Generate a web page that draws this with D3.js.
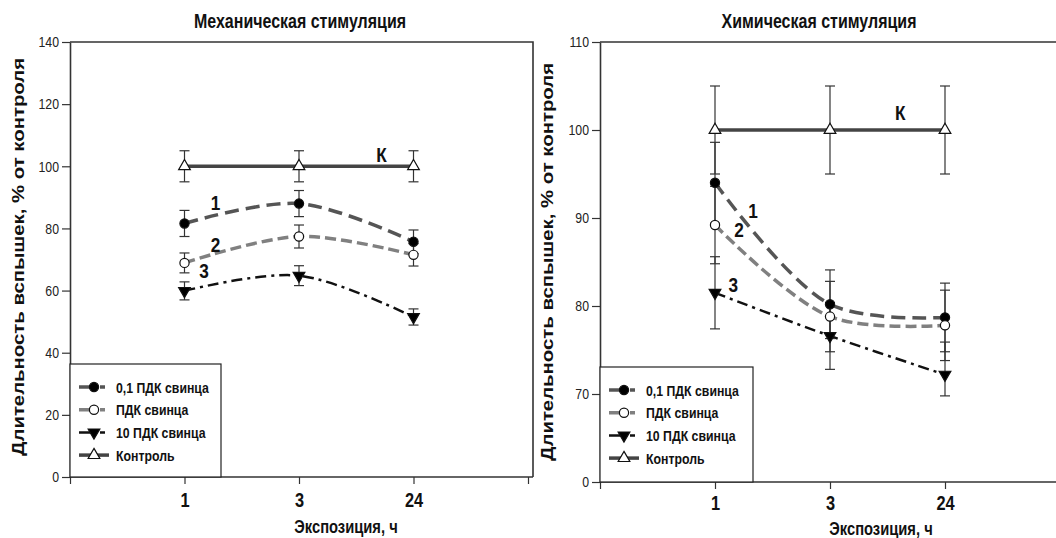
<!DOCTYPE html>
<html>
<head>
<meta charset="utf-8">
<script src="https://cdn.jsdelivr.net/npm/d3@7"></script>
<style>
  body { margin: 0; background: #fff; }
</style>
</head>
<body>
<div id="chart"></div>
<script>
// Data
var categories = ["1", "3", "24"];
var seriesNames = ["0,1 ПДК свинца", "ПДК свинца", "10 ПДК свинца", "Контроль"];
var curveLabels = ["1", "2", "3", "К"];

// Механическая стимуляция
var mechLow = [81.6, 88.0, 75.7];
var mechLowErr = [4.2, 4.2, 3.8];
var mechMpc = [68.9, 77.4, 71.5];
var mechMpcErr = [3.2, 3.7, 3.6];
var mechHigh = [59.9, 64.8, 51.5];
var mechHighErr = [2.9, 3.2, 2.6];
var mechCtrl = [100, 100, 100];
var mechCtrlErr = [5, 5, 5];
var mechTicks = [0, 20, 40, 60, 80, 100, 120, 140];

// Химическая стимуляция
var chemLow = [94.0, 80.2, 78.7];
var chemLowErr = [4.6, 3.9, 3.9];
var chemMpc = [89.2, 78.8, 77.8];
var chemMpcErr = [4.4, 4.0, 4.0];
var chemHigh = [81.5, 76.6, 72.2];
var chemHighErr = [4.1, 3.8, 3.7];
var chemCtrl = [100, 100, 100];
var chemCtrlErr = [5, 5, 5];
var chemTicks = [0, 70, 80, 90, 100, 110];

var drawChart = function(){

    var width = 1056, height = 538;
    var font = '"Liberation Sans", Arial, sans-serif';
    var squeeze = 0.82;   // no narrow font installed, so squeeze the regular one

    // styles for the four series: 0,1 ПДК, ПДК, 10 ПДК, Контроль
    var styles = [
        {color: "#555", dash: "14,7", width: 3.5, marker: "circle", fill: "#000"},
        {color: "#808080", dash: "11,5", width: 3.5, marker: "circle", fill: "#fff"},
        {color: "#111", dash: "11,5,3,5", width: 2.5, marker: "down", fill: "#000"},
        {color: "#444", dash: null, width: 3.5, marker: "up", fill: "#fff"}
    ];

    var svg = d3.select('#chart')
        .append('svg')
        .attr("width", width)
        .attr("height", height)
        .style('background-color', '#fff');

    // narrow text helper
    var narrowText = function(g, x, y, str, size, anchor) {
        return g.append("text")
            .attr("transform", "translate(" + x + "," + y + ") scale(" + squeeze + ",1)")
            .attr("text-anchor", anchor || "middle")
            .attr("font-family", font).attr("font-weight", "bold")
            .attr("font-size", size).attr("fill", "#111")
            .text(str);
    };

    var panels = [
        {
            title: "Механическая стимуляция", titleX: 300,
            left: 70, top: 42, bottom: 477, step: 114.5, frameRight: 533,
            yDomain: [0, 140], yTicks: mechTicks,
            series: [[mechLow, mechLowErr], [mechMpc, mechMpcErr], [mechHigh, mechHighErr], [mechCtrl, mechCtrlErr]],
            labelPos: [[1.27, 85.9], [1.27, 72.4], [1.17, 64.0], [2.72, 101.4]],
            yLabelX: 18, yLabelY: 257, xLabelX: 346, tickY: 30, xLabelY: 533,
            legendTop: 364, legendW: 151
        },
        {
            title: "Химическая стимуляция", titleX: 819,
            left: 600, top: 42, bottom: 482, step: 115, frameRight: 1062,
            yDomain: [0, 70, 110], yTicks: chemTicks,
            series: [[chemLow, chemLowErr], [chemMpc, chemMpcErr], [chemHigh, chemHighErr], [chemCtrl, chemCtrlErr]],
            labelPos: [[1.33, 90.0], [1.21, 87.8], [1.16, 81.6], [2.61, 101.1]],
            yLabelX: 547, yLabelY: 262, xLabelX: 881, tickY: 28, xLabelY: 535,
            legendTop: 367, legendW: 153
        }
    ];

    var markerPath = function(type, r) {
        if (type === "circle") return d3.symbol(d3.symbolCircle, Math.PI * r * r)();
        return d3.symbol(d3.symbolTriangle, r * r * 2.8)();
    };

    var drawMarker = function(g, st, x, y, r) {
        g.append("path")
            .attr("d", markerPath(st.marker, r))
            .attr("transform", "translate(" + x + "," + y + ")" + (st.marker === "down" ? " rotate(180)" : ""))
            .attr("fill", st.fill)
            .attr("stroke", "#111")
            .attr("stroke-width", 1.2);
    };

    panels.forEach(function(p) {
        var g = svg.append("g");

        // Scales (right panel has a broken axis: 0 then 70..110)
        var x = d3.scaleLinear().domain([0, 4]).range([p.left, p.left + 4 * p.step]);
        var yRange = p.yDomain.length === 2 ? [p.bottom, p.top]
            : [p.bottom, p.bottom - (p.bottom - p.top) / 5, p.top];
        var y = d3.scaleLinear().domain(p.yDomain).range(yRange);

        // Frame: top and right
        g.append("path")
            .attr("d", "M" + p.left + "," + p.top + "H" + p.frameRight + "V" + p.bottom)
            .attr("fill", "none")
            .attr("stroke", "#333")
            .attr("stroke-width", 1.6);

        // Y axis
        var yAxis = g.append("g")
            .attr("transform", "translate(" + p.left + ",0)")
            .call(d3.axisLeft(y).tickValues(p.yTicks).tickSize(8).tickSizeOuter(0).tickPadding(3));
        yAxis.select(".domain").attr("stroke", "#333").attr("stroke-width", 1.6);
        yAxis.selectAll(".tick line").attr("stroke", "#333").attr("stroke-width", 1.2);
        yAxis.selectAll(".tick text")
            .attr("font-family", font)
            .attr("font-size", 15)
            .attr("fill", "#222")
            .attr("x", -11 / squeeze)
            .attr("transform", "scale(" + squeeze + ",1)");

        // X axis
        var xAxis = g.append("g")
            .attr("transform", "translate(0," + p.bottom + ")")
            .call(d3.axisBottom(x).tickValues([0, 1, 2, 3, 4]).tickSize(7).tickSizeOuter(0)
                .tickFormat(function(d) { return categories[d - 1] || ""; }));
        xAxis.select(".domain").attr("stroke", "#333").attr("stroke-width", 1.6)
            .attr("d", "M" + p.left + ",0H" + p.frameRight);
        xAxis.selectAll(".tick line").attr("stroke", "#333").attr("stroke-width", 1.2);
        xAxis.selectAll(".tick text")
            .attr("font-family", font)
            .attr("font-weight", "bold")
            .attr("font-size", 20)
            .attr("fill", "#111")
            .attr("dy", null)
            .attr("y", p.tickY)
            .attr("transform", "scale(" + squeeze + ",1)");

        // Titles
        narrowText(g, p.titleX, 28, p.title, 19.5);
        narrowText(g, p.xLabelX, p.xLabelY, "Экспозиция, ч", 18);

        g.append("text")
            .attr("transform", "translate(" + (p.yLabelX + 6) + "," + p.yLabelY + ") rotate(-90)")
            .attr("text-anchor", "middle")
            .attr("font-family", font).attr("font-weight", "bold")
            .attr("font-size", 16.5).attr("fill", "#111")
            .attr("textLength", 398).attr("lengthAdjust", "spacingAndGlyphs")
            .text("Длительность вспышек, % от контроля");

        var line = d3.line()
            .x(function(d, i) { return x(i + 1); })
            .y(function(d) { return y(d); })
            .curve(d3.curveCatmullRom.alpha(0.5));

        // Lines
        p.series.forEach(function(s, k) {
            var st = styles[k];
            g.append("path")
                .datum(s[0])
                .attr("d", line)
                .attr("fill", "none")
                .attr("stroke", st.color)
                .attr("stroke-width", st.width)
                .attr("stroke-dasharray", st.dash);
        });

        // Error bars
        p.series.forEach(function(s) {
            s[0].forEach(function(v, i) {
                var cx = x(i + 1), e = s[1][i];
                var eb = g.append("g").attr("stroke", "#333").attr("stroke-width", 1.2);
                eb.append("line").attr("x1", cx).attr("x2", cx).attr("y1", y(v - e)).attr("y2", y(v + e));
                eb.append("line").attr("x1", cx - 5).attr("x2", cx + 5).attr("y1", y(v - e)).attr("y2", y(v - e));
                eb.append("line").attr("x1", cx - 5).attr("x2", cx + 5).attr("y1", y(v + e)).attr("y2", y(v + e));
            });
        });

        // Markers
        p.series.forEach(function(s, k) {
            s[0].forEach(function(v, i) {
                drawMarker(g, styles[k], x(i + 1), y(v), 4.6);
            });
        });

        // Curve labels
        p.labelPos.forEach(function(lp, k) {
            narrowText(g, x(lp[0]), y(lp[1]), curveLabels[k], 21);
        });

        // Legend
        var lg = g.append("g").attr("transform", "translate(" + p.left + "," + p.legendTop + ")");
        lg.append("rect")
            .attr("width", p.legendW).attr("height", p.bottom - p.legendTop)
            .attr("fill", "#fff").attr("stroke", "#222").attr("stroke-width", 1.2);
        seriesNames.forEach(function(name, k) {
            var st = styles[k];
            var iy = 23 + k * 22.7;
            lg.append("line")
                .attr("x1", 9).attr("x2", 39).attr("y1", iy).attr("y2", iy)
                .attr("stroke", st.color).attr("stroke-width", st.width)
                .attr("stroke-dasharray", st.dash ? "16,5,5,8" : null);
            drawMarker(lg, st, 24, iy, 4.6);
            narrowText(lg, 46, iy + 5.5, name, 15, "start");
        });
    });
}

window.addEventListener("load", drawChart)
</script>
</body>
</html>
